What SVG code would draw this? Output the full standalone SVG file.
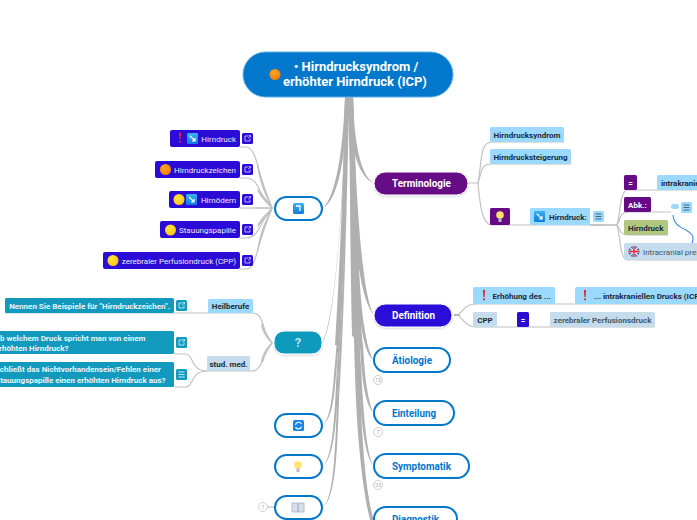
<svg xmlns="http://www.w3.org/2000/svg" width="697" height="520" viewBox="0 0 697 520">
<style>
text{font-family:Roboto,"Liberation Sans",sans-serif}
.br{fill:#b0b0b0;stroke:none}
.ln{fill:none;stroke:#c2c2c2;stroke-width:1.2}
.fa{fill:#c2c2c2;stroke:none}
.wt{fill:#fff;stroke:#0277cc;stroke-width:2}
.bt{fill:#0277cc;font-size:11px;font-weight:700}
.wl{fill:#fff;font-size:11px;font-weight:700}
.pl{fill:#eee9ff;font-size:8px;text-anchor:end}
.ql{fill:#e8f6fa;font-size:8px;font-weight:700;text-anchor:end}
.dk{fill:#1d2b36;font-size:8px;font-weight:700}
.ct{fill:#fff;stroke:#d0d0d0;stroke-width:1}
.cn{fill:#aaa;font-size:5.5px;text-anchor:middle}
.lb{fill:#9bd9ff}.sb{fill:#c5dcec}
.pu{fill:#2b0bd6}.vi{fill:#660a85}.te{fill:#119abd}
</style>
<defs>
<filter id="s" x="-10%" y="-20%" width="120%" height="150%"><feDropShadow dx="0" dy="1" stdDeviation="1" flood-color="#000" flood-opacity=".18"/></filter>
<radialGradient id="o" cx=".4" cy=".35" r=".7"><stop offset="0" stop-color="#ffa726"/><stop offset="1" stop-color="#f57c00"/></radialGradient>
<radialGradient id="y" cx=".4" cy=".35" r=".7"><stop offset="0" stop-color="#ffe53b"/><stop offset="1" stop-color="#fbc312"/></radialGradient>
<linearGradient id="b" x1="0" y1="0" x2="0" y2="1"><stop offset="0" stop-color="#39b2f2"/><stop offset="1" stop-color="#0f7bdc"/></linearGradient>
<g id="lk"><rect x="0" y="0" width="11" height="11" rx="1.5" fill="#2b0bd6"/><path d="M6 3H3V8H8V5.5M6 5.2 8.5 2.8M6.6 2.6H8.6V4.4" fill="none" stroke="#dcd6ff" stroke-width=".8"/></g>
<g id="lt"><rect x="0" y="0" width="11" height="11" rx="1.5" fill="#119abd"/><path d="M6 3H3V8H8V5.5M6 5.2 8.5 2.8M6.6 2.6H8.6V4.4" fill="none" stroke="#d8f2f9" stroke-width=".8"/></g>
<g id="ar"><rect x="0" y="0" width="11" height="11" rx="1.2" fill="url(#b)"/><path d="M2.8 2.8 7.6 7.4M5.2 7.9H8V5.1" fill="none" stroke="#fff" stroke-width="1.2"/></g>
<g id="ex"><path d="M-1.1 -5.5H1.1L.6 1.6H-.6Z" fill="#e9202d"/><circle cx="0" cy="3.8" r="1.1" fill="#e9202d"/></g>
<g id="mn"><rect x="0" y="0" width="11" height="11" rx="1.5" fill="#9bd9ff"/><path d="M2.5 3H8.5M2.5 5.5H8.5M2.5 8H8.5" stroke="#41586b" stroke-width=".9"/></g>
</defs>

<g id="connectors">
<path class="br" d="M345 97C344 170 340 260 335 345L339.500 345C343 260 347 170 349 97Z"/>
<path class="br" d="M349 97C350 170 350 250 352 335L361 350C359 250 355 170 353 97Z"/>
<path class="br" d="M345 97C343 150 336 196 323 208 338 200 345 160 349 97Z"/>
<path class="br" d="M347 97C349 140 357 178 374 183 360 176 354 140 353 97Z"/>
<path class="br" d="M345 97C344 200 335 320 322 343 333 330 341 240 348 97Z"/>
<path class="br" d="M345 97C344 220 338 340 334 375 332 400 330 418 323 425 332 418 334 400 336 375 340 340 345 220 347 97Z"/>
<path class="br" d="M346 97C345 220 339 340 336 385 334 430 331 458 323 466 333 458 336 430 338 385 341 340 346 220 348 97Z"/>
<path class="br" d="M346 97C346 220 341 340 337 400 335 460 333 498 323 507 335 498 337 460 339 400 343 340 347 220 349 97Z"/>
<path class="br" d="M348 97C350 200 356 296 374 315 362 296 356 200 353 97Z"/>
<path class="br" d="M349 97C351 220 356 300 361 325 364 345 368 356 373 360 369 352 366 340 364 325 360 300 355 220 352 97Z"/>
<path class="br" d="M349 97C351 220 356 310 360 345 362 385 366 405 373 412 369 402 365 385 363 345 359 310 355 220 352 97Z"/>
<path class="br" d="M349 97C351 220 355 320 358 365 361 430 366 458 373 465 368 455 364 430 361 365 358 320 355 220 352 97Z"/>
<path class="br" d="M350 97C352 220 354 320 357 385 360 470 366 508 373 518 369 505 363 470 360 385 358 320 356 220 353 97Z"/>
<path class="br" d="M350 97C352 220 353 330 356 400 360 480 368 515 374 535L378 535C371 515 363 480 359 400 357 330 356 220 353 97Z"/>
<path class="ln" d="M240 147H246C258 147 258 180 272 208"/>
<path class="ln" d="M240 178H246C260 178 258 196 272 208"/>
<path class="ln" d="M240 208H272"/>
<path class="ln" d="M240 238H246C260 238 260 220 272 208"/>
<path class="ln" d="M240 269H246C258 269 258 235 272 208"/>
<path class="fa" d="M257 165C259 180 264 196 273 208 267 193 261 178 258 165Z"/>
<path class="fa" d="M257 190C260 197 266 203 273 208 268 200 262 194 258 189Z"/>
<path class="fa" d="M255 207.400H273V208.600H255Z"/>
<path class="fa" d="M257 226C260 219 266 213 273 208 268 216 262 222 258 227Z"/>
<path class="fa" d="M257 252C259 236 264 220 273 208 267 223 261 238 258 252Z"/>
<path class="ln" d="M5 313H253C265 313 262 336 272 343"/>
<path class="ln" d="M207 371H252C264 371 262 350 272 343"/>
<path class="fa" d="M261 325C263 333 266 339 273 343 268 336 265 331 263 323Z"/>
<path class="fa" d="M261 361C263 353 266 347 273 343 268 350 265 355 263 363Z"/>
<path class="ln" d="M174 354H186C194 354 190 371 207 371"/>
<path class="ln" d="M174 387H186C194 387 190 371 207 371"/>
<path class="ln" d="M478 183C482 160 480 142 492 142H564"/>
<path class="ln" d="M478 183C482 172 480 164 492 164H571"/>
<path class="ln" d="M468 183H478C480 205 482 225 492 225H604"/>
<path d="M590 225H617" stroke="#bdbdbd" stroke-width="1.600" fill="none"/>
<path class="ln" d="M617 225C621 210 620 190 628 190H697"/>
<path class="ln" d="M617 225C621 218 620 212 628 212H671"/>
<path class="ln" d="M617 225C621 230 620 235 628 235H668"/>
<path class="ln" d="M617 225C621 240 620 260 628 260H697"/>
<path d="M673 215C674 224 678 226 686 230 691 233 695 236 692 243" fill="none" stroke="#3a8be0" stroke-width="1.100"/>
<path d="M454 315H460" stroke="#b5b5b5" stroke-width="2" fill="none"/>
<path class="ln" d="M458 315C464 310 466 304 476 304H697"/>
<path class="ln" d="M458 315C464 320 466 327 476 327H655"/>
<path class="ln" d="M267 507H274"/>
</g>

<g id="root"><rect x="243" y="52" width="210" height="45" rx="22.500" fill="#0277cc" stroke="#5eb1e6" stroke-width="1"/>
<circle cx="275" cy="74.500" r="5.500" fill="url(#o)"/>
<text x="356" y="71" fill="#fff" font-size="13px" font-weight="700" text-anchor="middle">• Hirndrucksyndrom /</text>
<text x="355" y="86" fill="#fff" font-size="13px" font-weight="700" text-anchor="middle">erhöhter Hirndruck (ICP)</text></g>

<g id="n-icon1"><rect class="wt" x="275" y="197" width="47" height="23" rx="11.500"/><rect x="293" y="203" width="11" height="11" rx="1.500" fill="url(#b)"/><path d="M296 206H300V211" fill="none" stroke="#fff" stroke-width="1.300"/></g>
<g id="n-hirndruck"><rect class="pu" x="170" y="130" width="70" height="17" rx="2"/><use href="#ex" x="180" y="138"/><use href="#ar" x="187" y="133"/><text class="pl" x="236" y="141.500">Hirndruck</text><use href="#lk" x="242" y="133"/></g>
<g id="n-zeichen"><rect class="pu" x="155" y="161" width="85" height="17" rx="2"/><circle cx="165.500" cy="169.500" r="5.500" fill="url(#o)"/><text class="pl" x="236" y="172.500">Hirndruckzeichen</text><use href="#lk" x="242" y="164"/></g>
<g id="n-oedem"><rect class="pu" x="169" y="191" width="71" height="17" rx="2"/><circle cx="179" cy="199.500" r="5.500" fill="url(#y)"/><use href="#ar" x="186" y="194"/><text class="pl" x="236" y="202.500">Hirnödem</text><use href="#lk" x="242" y="194"/></g>
<g id="n-stauung"><rect class="pu" x="160" y="221" width="80" height="17" rx="2"/><circle cx="170.500" cy="230" r="5.500" fill="url(#y)"/><text class="pl" x="236" y="233">Stauungspapille</text><use href="#lk" x="242" y="224"/></g>
<g id="n-cpp"><rect class="pu" x="103" y="252" width="137" height="17" rx="2"/><circle cx="113" cy="260.500" r="5.500" fill="url(#y)"/><text class="pl" x="236" y="263.500">zerebraler Perfusiondruck (CPP)</text><use href="#lk" x="242" y="255"/></g>

<g id="n-frage"><rect class="te" x="274" y="331" width="48" height="23" rx="10" stroke="#fff" filter="url(#s)"/><text x="298" y="347" fill="#b7e2ee" font-size="13px" font-weight="700" text-anchor="middle">?</text></g>
<g id="n-heil"><rect class="lb" x="208" y="299" width="45" height="14" rx="1.500"/><text class="dk" x="230.500" y="309" text-anchor="middle">Heilberufe</text></g>
<g id="n-stud"><rect class="sb" x="207" y="356" width="43" height="15" rx="1.500"/><text class="dk" x="228.500" y="366.500" text-anchor="middle">stud. med.</text></g>
<g id="n-q1"><rect class="te" x="5" y="298" width="169" height="15" rx="1.500"/><text class="ql" x="170" y="308.500">Nennen Sie Beispiele für "Hirndruckzeichen".</text><use href="#lt" x="176" y="300"/></g>
<g id="n-q2"><rect class="te" x="-10" y="331" width="184" height="23" rx="1.500"/><text class="ql" x="145.500" y="341">Ab welchem Druck spricht man von einem</text><text class="ql" x="68.500" y="351">erhöhten Hirndruck?</text><use href="#lt" x="176" y="337"/></g>
<g id="n-q3"><rect class="te" x="-10" y="362" width="184" height="25" rx="1.500"/><text class="ql" x="161" y="372">Schließt das Nichtvorhandensein/Fehlen einer</text><text class="ql" x="165.500" y="383">Stauungspapille einen erhöhten Hirndruck aus?</text><rect x="176" y="369" width="11" height="11" rx="1.500" fill="#119abd"/><path d="M178.500 372H184.500M178.500 374.500H184.500M178.500 377H184.500" stroke="#d8f2f9" stroke-width=".9"/></g>

<g id="n-sync"><rect class="wt" x="275" y="414" width="47" height="23" rx="11.500"/><rect x="293" y="420" width="11" height="11" rx="1.500" fill="#1a86e8"/><path d="M295.500 425A3.200 3.200 0 0 1 301.500 424M301.500 426.500A3.200 3.200 0 0 1 295.500 427" fill="none" stroke="#fff" stroke-width="1.100"/></g>
<g id="n-bulb"><rect class="wt" x="275" y="455" width="47" height="23" rx="11.500"/><circle cx="298" cy="465" r="3.800" fill="#ffe36b"/><rect x="296.500" y="468.500" width="3" height="3.500" fill="#b7bcc2"/></g>
<g id="n-book"><rect class="wt" x="275" y="496" width="47" height="23" rx="11.500"/><path d="M292 503H298V512H292ZM298 503H304V512H298Z" fill="#d8dee6" stroke="#9fb4c9" stroke-width=".8"/><circle class="ct" cx="263" cy="507" r="4.500"/><text class="cn" x="263" y="509">1</text></g>

<g id="n-term"><rect class="vi" x="374" y="172" width="94" height="23" rx="11.500" stroke="#fff" filter="url(#s)"/><text class="wl" x="392" y="187" textLength="59" lengthAdjust="spacingAndGlyphs">Terminologie</text></g>
<g id="n-syn"><rect class="lb" x="490" y="127" width="74" height="15" rx="1.500"/><text class="dk" x="527" y="137.500" text-anchor="middle">Hirndrucksyndrom</text></g>
<g id="n-steig"><rect class="lb" x="490" y="149" width="81" height="15" rx="1.500"/><text class="dk" x="530.500" y="159.500" text-anchor="middle">Hirndrucksteigerung</text></g>
<g id="n-lamp"><rect class="vi" x="490" y="208" width="20" height="17" rx="1.500"/><circle cx="500" cy="215" r="3.800" fill="#ffe36b"/><rect x="498.500" y="218.500" width="3" height="3.500" fill="#b7bcc2"/></g>
<g id="n-hd"><rect class="lb" x="530" y="208" width="60" height="17" rx="1.500"/><use href="#ar" x="534" y="211"/><text class="dk" x="549" y="219.500">Hirndruck:</text><use href="#mn" x="593" y="211"/></g>
<g id="n-eq1"><rect class="vi" x="624" y="175" width="13" height="15" rx="1.500"/><text x="630.500" y="186" fill="#fff" font-size="8px" font-weight="700" text-anchor="middle">=</text></g>
<g id="n-ikd"><rect class="lb" x="657" y="175" width="50" height="15" rx="1.500"/><text class="dk" x="661" y="186">intrakranieller Druck</text></g>
<g id="n-abk"><rect class="vi" x="624" y="197" width="27" height="15" rx="1.500"/><text x="628" y="207.500" fill="#fff" font-size="8px" font-weight="700">Abk.:</text><rect class="lb" x="671" y="204" width="8" height="5" rx="2.500"/><use href="#mn" x="681" y="202"/></g>
<g id="n-green"><rect x="624" y="220" width="44" height="15" rx="1.500" fill="#b1c77f"/><text class="dk" x="628" y="230.500">Hirndruck</text></g>
<g id="n-icp"><rect class="sb" x="624" y="243" width="83" height="17" rx="1.500"/><circle cx="634" cy="251.500" r="5.500" fill="#41609f"/><path d="M630 247.500 638 255.500M638 247.500 630 255.500" stroke="#e8eef5" stroke-width="1.200"/><path d="M628.500 251.500H639.500M634 246V257" stroke="#e8eef5" stroke-width="2.600"/><path d="M628.500 251.500H639.500M634 246V257" stroke="#e5283a" stroke-width="1.400"/><text x="643" y="254.500" fill="#41586b" font-size="8px">Intracranial pressure</text></g>

<g id="n-def"><rect class="pu" x="374" y="304" width="78" height="23" rx="11.500" stroke="#fff" filter="url(#s)"/><text class="wl" x="392" y="319" textLength="43" lengthAdjust="spacingAndGlyphs">Definition</text></g>
<g id="n-erh"><rect class="lb" x="473" y="287" width="82" height="17" rx="1.500"/><use href="#ex" x="484" y="295.500"/><text class="dk" x="492.500" y="298.500">Erhöhung des ...</text></g>
<g id="n-intra"><rect class="lb" x="575" y="287" width="132" height="17" rx="1.500"/><use href="#ex" x="585" y="295.500"/><text class="dk" x="594" y="298.500">... intrakraniellen Drucks (ICP)</text></g>
<g id="n-cppk"><rect class="sb" x="473" y="312" width="24" height="15" rx="1.500"/><text class="dk" x="485" y="322.500" text-anchor="middle">CPP</text></g>
<g id="n-eq2"><rect class="pu" x="517" y="312" width="12" height="15" rx="1.500"/><text x="523" y="323" fill="#fff" font-size="8px" font-weight="700" text-anchor="middle">=</text></g>
<g id="n-zer"><rect class="sb" x="550" y="312" width="105" height="15" rx="1.500"/><text class="dk" x="602.500" y="322.500" text-anchor="middle" style="fill:#41586b">zerebraler Perfusionsdruck</text></g>

<g id="n-aet"><rect class="wt" x="374" y="348" width="76" height="24" rx="12"/><text class="bt" x="392" y="364" textLength="40" lengthAdjust="spacingAndGlyphs">Ätiologie</text><circle class="ct" cx="378" cy="380" r="4.500"/><text class="cn" x="378" y="382">15</text></g>
<g id="n-ein"><rect class="wt" x="374" y="401" width="80" height="24" rx="12"/><text class="bt" x="392" y="417" textLength="44" lengthAdjust="spacingAndGlyphs">Einteilung</text><circle class="ct" cx="378" cy="432" r="4.500"/><text class="cn" x="378" y="434">7</text></g>
<g id="n-sym"><rect class="wt" x="374" y="454" width="95" height="24" rx="12"/><text class="bt" x="392" y="470" textLength="59" lengthAdjust="spacingAndGlyphs">Symptomatik</text><circle class="ct" cx="378" cy="485" r="4.500"/><text class="cn" x="378" y="487">23</text></g>
<g id="n-dia"><rect class="wt" x="374" y="507" width="83" height="24" rx="12"/><text class="bt" x="392" y="523" textLength="47" lengthAdjust="spacingAndGlyphs">Diagnostik</text></g>
</svg>
